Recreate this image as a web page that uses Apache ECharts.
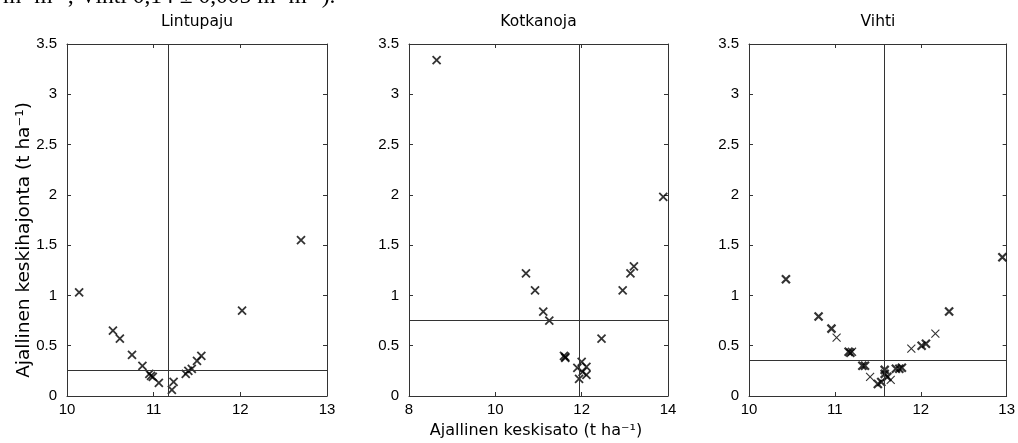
<!DOCTYPE html>
<html><head><meta charset="utf-8">
<script src="https://cdn.jsdelivr.net/npm/echarts@6/dist/echarts.min.js"></script>
<style>html,body{margin:0;padding:0;background:#fff}#c{width:1018px;height:443px}</style>
</head><body><div id="c"></div>
<script>
// Data
const panelTitles = ['Lintupaju', 'Kotkanoja', 'Vihti'];
const lintuX = [10.14,10.53,10.61,10.75,10.87,10.95,10.97,10.99,11.06,11.21,11.23,11.37,11.40,11.44,11.50,11.55,12.02,12.70];
const lintuY = [1.03,0.65,0.57,0.41,0.30,0.22,0.20,0.19,0.13,0.06,0.14,0.22,0.25,0.27,0.35,0.40,0.85,1.55];
const kotkaX = [8.64,10.71,10.92,11.11,11.25,11.59,11.62,11.62,11.90,11.94,12.00,12.02,12.11,12.11,12.46,12.95,13.13,13.21,13.89];
const kotkaY = [3.34,1.22,1.05,0.84,0.75,0.40,0.39,0.38,0.28,0.17,0.34,0.24,0.29,0.21,0.57,1.05,1.22,1.29,1.98];
const vihtiX = [10.43,10.81,10.96,11.16,11.18,11.32,11.35,11.50,11.54,11.58,11.58,11.61,11.71,11.75,11.78,12.01,12.06,12.33,12.95];
const vihtiY = [1.16,0.79,0.67,0.44,0.43,0.30,0.30,0.12,0.14,0.22,0.26,0.19,0.27,0.27,0.28,0.50,0.52,0.84,1.38];
const vihtiThinX = [11.02,11.20,11.41,11.65,11.89,12.17];
const vihtiThinY = [0.58,0.44,0.19,0.16,0.47,0.62];
const meanX = [11.17, 11.95, 11.57];
const meanY = [0.26, 0.75, 0.36];
const xMin = [10, 8, 10], xMax = [13, 14, 13], xStep = [1, 2, 1];
const yMin = 0, yMax = 3.5, yStep = 0.5;
const yTitle = 'Ajallinen keskihajonta (t ha\u207B\u00B9)';
const xTitle = 'Ajallinen keskisato (t ha\u207B\u00B9)';
const headerText = 'm\u00B3 m\u207B\u00B3; Vihti 0,14 \u00B1 0,005 m\u00B3 m\u207B\u00B3).';

const zip = (a, b) => a.map((v, i) => [v, b[i]]);

const grids = [
  {left: 67, top: 44, width: 260, height: 352},
  {left: 409, top: 44, width: 259, height: 352},
  {left: 749, top: 44, width: 258, height: 352}
];
const axisCol = '#333';
const crossSym = 'path://M0,0L10,10M10,0L0,10';

const xAxes = [], yAxes = [], series = [];
grids.forEach((g, i) => {
  const common = {gridIndex: i, type: 'value', min: xMin[i], max: xMax[i], interval: xStep[i],
    splitLine: {show: false}, axisLine: {show: true, onZero: false, lineStyle: {color: axisCol, width: 1}},
    axisTick: {show: true, inside: true, length: 4, lineStyle: {color: axisCol}}};
  xAxes.push(Object.assign({}, common, {position: 'bottom',
    axisLabel: {margin: 6, color: '#000', fontFamily: 'Liberation Sans', fontSize: 15}}));
  xAxes.push(Object.assign({}, common, {position: 'top', axisLabel: {show: false}}));
  const cy = {gridIndex: i, type: 'value', min: yMin, max: yMax, interval: yStep,
    splitLine: {show: false}, axisLine: {show: true, onZero: false, lineStyle: {color: axisCol, width: 1}},
    axisTick: {show: true, inside: true, length: 4, lineStyle: {color: axisCol}}};
  yAxes.push(Object.assign({}, cy, {position: 'left',
    axisLabel: {margin: 10, color: '#000', fontFamily: 'Liberation Sans', fontSize: 15, formatter: v => String(v)}}));
  yAxes.push(Object.assign({}, cy, {position: 'right', axisLabel: {show: false}}));
});

const sets = [
  {xs: lintuX, ys: lintuY, w: 1.8, p: 0},
  {xs: kotkaX, ys: kotkaY, w: 1.8, p: 1},
  {xs: vihtiX, ys: vihtiY, w: 2.2, p: 2},
  {xs: vihtiThinX, ys: vihtiThinY, w: 1.1, p: 2}
];
sets.forEach((s, k) => {
  series.push({
    type: 'scatter', xAxisIndex: s.p * 2, yAxisIndex: s.p * 2,
    data: zip(s.xs, s.ys), symbol: crossSym, symbolSize: 8, silent: true,
    itemStyle: {color: 'rgba(0,0,0,0)', borderColor: '#000', borderWidth: s.w},
    markLine: (k < 3) ? {
      silent: true, symbol: ['none', 'none'], label: {show: false},
      lineStyle: {color: '#333', width: 1, type: 'solid'},
      data: [{xAxis: meanX[s.p]}, {yAxis: meanY[s.p]}]
    } : undefined
  });
});

const graphics = [
  {type: 'text', left: 3, top: -15, style: {text: headerText, font: '23.5px "Liberation Serif"', fill: '#000'}},
  {type: 'text', x: 24, y: 240, rotation: Math.PI / 2, style: {text: yTitle, font: '18.5px "DejaVu Sans"', fill: '#000', align: 'center', verticalAlign: 'middle'}},
  {type: 'text', x: 536, y: 431, style: {text: xTitle, font: '16px "DejaVu Sans"', fill: '#000', align: 'center', verticalAlign: 'middle'}}
];
grids.forEach((g, i) => {
  graphics.push({type: 'text', x: g.left + g.width / 2, y: 22, style: {text: panelTitles[i], font: '15.5px "DejaVu Sans"', fill: '#000', align: 'center', verticalAlign: 'middle'}});
});

const chart = echarts.init(document.getElementById('c'), null, {renderer: 'canvas'});
chart.setOption({
  animation: false,
  backgroundColor: '#fff',
  grid: grids,
  xAxis: xAxes,
  yAxis: yAxes,
  series: series,
  graphic: graphics
});
</script></body></html>
